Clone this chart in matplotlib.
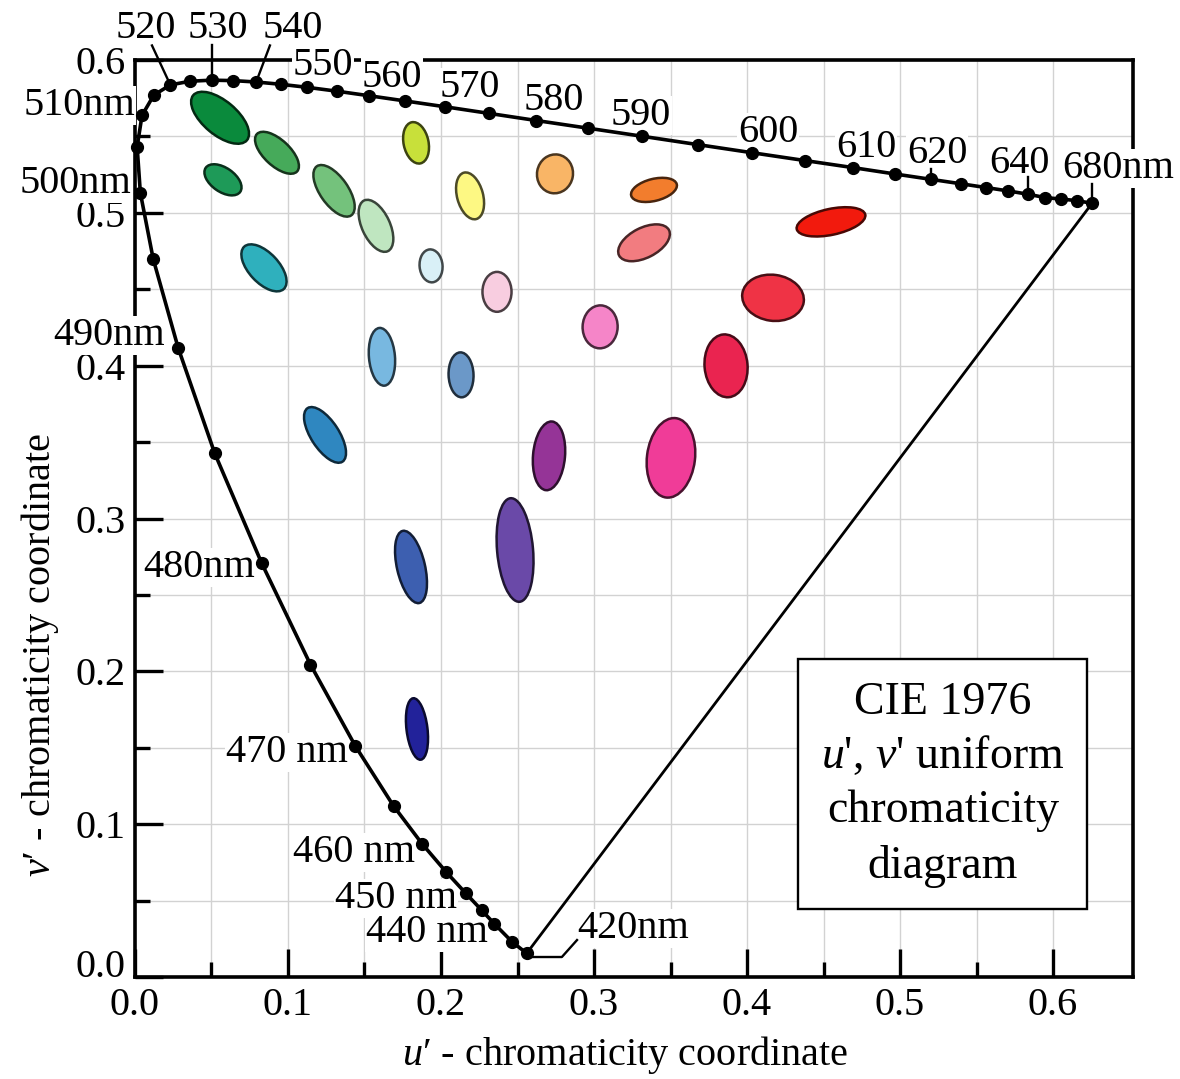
import numpy as np
import matplotlib.pyplot as plt
import matplotlib.colors as mcolors
from matplotlib.patches import Ellipse, Rectangle

plt.rcParams['font.family'] = ['Liberation Serif', 'DejaVu Serif']
plt.rcParams['mathtext.fontset'] = 'custom'
plt.rcParams['mathtext.rm'] = 'Liberation Serif'
plt.rcParams['mathtext.it'] = 'Liberation Serif:italic'

# spectral locus (u', v'), 420 nm -> 680 nm
locus_nm = [420, 430, 440, 445, 450, 455, 460, 465, 470, 475, 480, 485, 490,
            495, 500, 505, 510, 515, 520, 525, 530, 535, 540, 545, 550, 555,
            560, 565, 570, 575, 580, 585, 590, 595, 600, 605, 610, 615, 620,
            625, 630, 635, 640, 650, 660, 670, 680]
locus_u = [0.2560, 0.2465, 0.2347, 0.2266, 0.2161, 0.2033, 0.1877, 0.1690,
           0.1441, 0.1147, 0.0828, 0.0521, 0.0282, 0.0119, 0.0035, 0.0014,
           0.0046, 0.0123, 0.0231, 0.0360, 0.0501, 0.0643, 0.0792, 0.0953,
           0.1127, 0.1319, 0.1531, 0.1766, 0.2026, 0.2312, 0.2623, 0.2960,
           0.3315, 0.3681, 0.4035, 0.4379, 0.4692, 0.4968, 0.5203, 0.5399,
           0.5565, 0.5709, 0.5835, 0.5948, 0.6052, 0.6157, 0.6255]
locus_v = [0.0155, 0.0230, 0.0350, 0.0437, 0.0549, 0.0688, 0.0871, 0.1119,
           0.1510, 0.2044, 0.2708, 0.3427, 0.4117, 0.4698, 0.5131, 0.5432,
           0.5638, 0.5770, 0.5837, 0.5861, 0.5868, 0.5865, 0.5856, 0.5841,
           0.5821, 0.5796, 0.5766, 0.5732, 0.5694, 0.5651, 0.5604, 0.5554,
           0.5501, 0.5446, 0.5393, 0.5342, 0.5296, 0.5254, 0.5219, 0.5190,
           0.5165, 0.5143, 0.5122, 0.5100, 0.5090, 0.5080, 0.5062]

# MacAdam-style ellipses: centre, major / minor axis (u' units), tilt (deg)
ell_u = [0.0556, 0.0928, 0.0575, 0.1301, 0.1575, 0.1837, 0.2190, 0.1935,
         0.0843, 0.2366, 0.2745, 0.3392, 0.3327, 0.4549, 0.3040, 0.4170,
         0.3863, 0.1614, 0.2131, 0.1242, 0.2706, 0.3503, 0.2484, 0.1804,
         0.1843]
ell_v = [0.5622, 0.5393, 0.5216, 0.5144, 0.4915, 0.5458, 0.5111, 0.4653,
         0.4640, 0.4483, 0.5255, 0.5150, 0.4804, 0.4941, 0.4254, 0.4444,
         0.3999, 0.4058, 0.3940, 0.3547, 0.3410, 0.3397, 0.2794, 0.2683,
         0.1623]
ell_major = [0.0458, 0.0359, 0.0275, 0.0392, 0.0366, 0.0275, 0.0314, 0.0216,
             0.0379, 0.0261, 0.0255, 0.0307, 0.0366, 0.0458, 0.0281, 0.0405,
             0.0412, 0.0379, 0.0294, 0.0418, 0.0451, 0.0523, 0.0680, 0.0484,
             0.0405]
ell_minor = [0.0222, 0.0170, 0.0157, 0.0183, 0.0183, 0.0163, 0.0170, 0.0150,
             0.0196, 0.0190, 0.0235, 0.0144, 0.0196, 0.0170, 0.0229, 0.0301,
             0.0281, 0.0170, 0.0163, 0.0183, 0.0209, 0.0314, 0.0235, 0.0183,
             0.0137]
ell_angle = [-40, -43, -35, -55, -65, -78, -75, 95, -47, 90, 80, 14, 27, 12,
             88, -8, 95, 95, 92, -57, 85, 83, 95, 103, 97]
ell_color = ['#0a8a3c', '#46aa5a', '#1e9a58', '#74c27c', '#bfe6c0', '#c8e03a',
             '#fdf883', '#d9f0f7', '#2fb0bd', '#f8cde0', '#f9b566', '#f27d2d',
             '#f27c80', '#f21a0d', '#f585c8', '#ef3345', '#ea2450', '#78b8e0',
             '#6b98c8', '#2f87c0', '#953497', '#f03c98', '#6a49a8', '#3d5fb0',
             '#22229a']

fig = plt.figure(figsize=(11.8, 10.79), dpi=100)
ax = fig.add_axes([0.1144, 0.0945, 0.8458, 0.8499])
ax.set_xlim(0, 0.6523)
ax.set_ylim(0, 0.6)

# ticks / grid
ax.set_xticks(np.arange(0, 0.61, 0.1))
ax.set_yticks(np.arange(0, 0.61, 0.1))
ax.set_xticks(np.arange(0.05, 0.6, 0.1), minor=True)
ax.set_yticks(np.arange(0.05, 0.6, 0.1), minor=True)
ax.set_xticklabels([f"{t:.1f}" for t in np.arange(0, 0.61, 0.1)])
ax.set_yticklabels([f"{t:.1f}" for t in np.arange(0, 0.61, 0.1)])
ax.tick_params(which='major', direction='in', length=20, width=2.4,
               labelsize=29, pad=7, top=False, right=False)
ax.tick_params(which='minor', direction='in', length=11, width=2.4,
               top=False, right=False)
# the 0.0 on the v' axis sits a little higher so it clears the u' 0.0
ax.get_yticklabels()[0].set_va('baseline')
ax.grid(which='both', color='#d2d2d2', lw=1)
ax.set_axisbelow(True)
for s in ax.spines.values():
    s.set_linewidth(2.6)

# ellipses
for u, v, a, b, ang, c in zip(ell_u, ell_v, ell_major, ell_minor, ell_angle, ell_color):
    edge = tuple(x * 0.3 for x in mcolors.to_rgb(c))
    ax.add_patch(Ellipse((u, v), a, b, angle=ang, facecolor=c,
                         edgecolor=edge, lw=1.8, zorder=3))

# spectral locus and line of purples
ax.plot([locus_u[0], locus_u[-1]], [locus_v[0], locus_v[-1]], color='black',
        lw=2.0, zorder=4, clip_on=False)
ax.plot(locus_u, locus_v, color='black', lw=2.6, marker='o', ms=8.5,
        zorder=5, clip_on=False)

# wavelength labels
lab_kw = dict(fontsize=29, va='baseline', zorder=3.5,
              bbox=dict(facecolor='white', edgecolor='none', pad=1))
labels = [
    ("520", 0.0072, 0.6145, 'center'), ("530", 0.0542, 0.6145, 'center'),
    ("540", 0.1033, 0.6145, 'center'), ("550", 0.1229, 0.5903, 'center'),
    ("560", 0.1680, 0.5825, 'center'), ("570", 0.2190, 0.5759, 'center'),
    ("580", 0.2739, 0.5674, 'center'), ("590", 0.3307, 0.5576, 'center'),
    ("600", 0.4137, 0.5465, 'center'), ("610", 0.4778, 0.5366, 'center'),
    ("620", 0.5242, 0.5327, 'center'), ("640", 0.5778, 0.5262, 'center'),
    ("680nm", 0.6059, 0.5229, 'left'),
    ("510nm", 0.0000, 0.5641, 'right'), ("500nm", -0.0026, 0.5131, 'right'),
    ("490nm", 0.0196, 0.4136, 'right'), ("480nm", 0.0784, 0.2618, 'right'),
    ("470 nm", 0.1392, 0.1407, 'right'), ("460 nm", 0.1830, 0.0753, 'right'),
    ("450 nm", 0.2105, 0.0452, 'right'), ("440 nm", 0.2307, 0.0229, 'right'),
    ("420nm", 0.2889, 0.0255, 'left'),
]
for txt, x, y, ha in labels:
    ax.text(x, y, txt, ha=ha, **lab_kw)

# leader lines
def nm_pt(nm):
    i = locus_nm.index(nm)
    return locus_u[i], locus_v[i]

lead_kw = dict(color='black', lw=1.7, zorder=4, clip_on=False)
u, v = nm_pt(520)
ax.plot([0.0111, u], [0.6095, v], **lead_kw)
u, v = nm_pt(530)
ax.plot([u, u], [0.6095, v], **lead_kw)
u, v = nm_pt(540)
ax.plot([0.0882, u], [0.6095, v], **lead_kw)
u, v = nm_pt(620)
ax.plot([u, u], [0.5290, v], **lead_kw)
u, v = nm_pt(640)
ax.plot([u, u], [0.5235, v], **lead_kw)
u, v = nm_pt(680)
ax.plot([u, u], [0.5190, v], **lead_kw)
u, v = nm_pt(420)
ax.plot([u, 0.2790, 0.2889], [0.0131, 0.0131, 0.0242], **lead_kw)

# title box
ax.add_patch(Rectangle((0.4333, 0.0445), 0.1889, 0.1636, facecolor='white',
                       edgecolor='black', lw=1.7, zorder=6))
box_lines = [("CIE 1976", 0.1721), ("$u$', $v$' uniform", 0.1368),
             ("chromaticity", 0.1014), ("diagram", 0.0648)]
for txt, y in box_lines:
    ax.text(0.5281, y, txt, ha='center', va='baseline', fontsize=33, zorder=7)

# axis titles
fig.text(625 / 1180, 1 - 1055 / 1079, "$u$′ - chromaticity coordinate",
         ha='center', va='center', fontsize=29)
fig.text(40 / 1180, 1 - 655 / 1079, "$v$′ - chromaticity coordinate",
         ha='center', va='center', fontsize=29, rotation=90)

fig.savefig("out.png", dpi=100)
